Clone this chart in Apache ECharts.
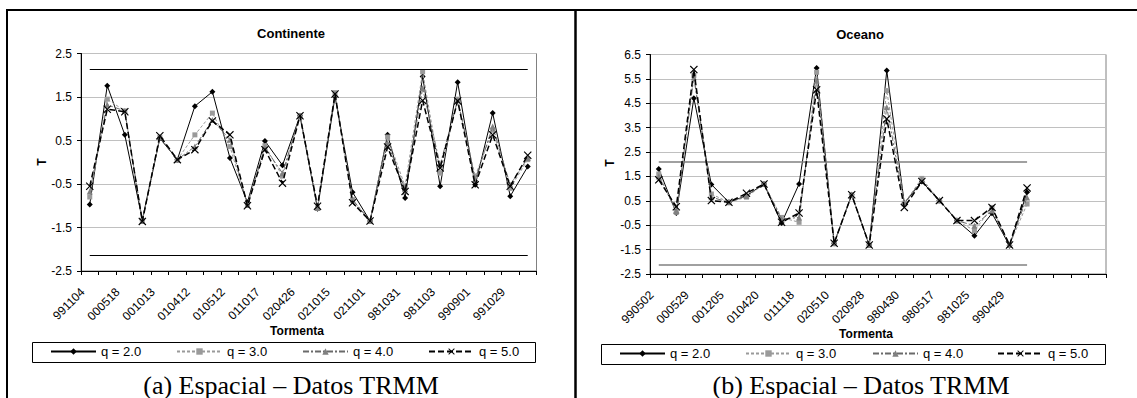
<!DOCTYPE html>
<html><head><meta charset="utf-8">
<script src="https://cdn.jsdelivr.net/npm/echarts@6/dist/echarts.min.js"></script>
<style>html,body{margin:0;padding:0;background:#fff}#c{width:1137px;height:398px}</style>
</head><body><div id="c"></div>
<script>
// ---------- data ----------
const leftStorms = ['991104','','000518','','001013','','010412','','010512','','011017','','020426','','021015','','021101','','981031','','981103','','990901','','991029',''];
const rightStorms = ['990502','','000529','','001205','','010420','','011118','','020510','','020928','','980430','','980517','','981025','','990429','','','','',''];
const seriesNames = ['q = 2.0','q = 3.0','q = 4.0','q = 5.0'];

const leftQ2 = [-0.97, 1.76, 0.63, -1.32, 0.55, 0.06, 1.29, 1.62, 0.10, -0.92, 0.49, -0.07, 1.07, -1.07, 1.51, -0.69, -1.35, 0.63, -0.82, 1.97, -0.55, 1.84, -0.52, 1.13, -0.78, -0.10];
const leftQ3 = [-0.80, 1.45, 1.18, -1.35, 0.57, 0.06, 0.63, 1.13, 0.36, -0.97, 0.38, -0.32, 1.07, -1.05, 1.60, -0.86, -1.35, 0.58, -0.55, 2.08, -0.25, 1.45, -0.32, 0.74, -0.60, 0.06];
const leftQ4 = [-0.67, 1.32, 1.18, -1.35, 0.58, 0.06, 0.36, 0.97, 0.52, -0.98, 0.33, -0.25, 1.07, -1.05, 1.57, -0.86, -1.35, 0.44, -0.62, 1.70, -0.06, 1.43, -0.40, 0.82, -0.52, 0.10];
const leftQ5 = [-0.55, 1.22, 1.16, -1.36, 0.61, 0.06, 0.29, 0.95, 0.63, -1.00, 0.29, -0.48, 1.07, -1.01, 1.57, -0.93, -1.35, 0.35, -0.67, 1.42, -0.13, 1.41, -0.52, 0.63, -0.55, 0.16];

const rightQ2 = [1.81, 0.00, 4.71, 1.17, 0.44, 0.71, 1.19, -0.41, 1.19, 5.95, -1.24, 0.75, -1.31, 5.84, 0.40, 1.29, 0.51, -0.31, -0.93, -0.01, -1.34, 0.85];
const rightQ3 = [1.60, 0.03, 5.64, 0.78, 0.44, 0.65, 1.19, -0.18, -0.38, 5.77, -1.24, 0.75, -1.31, 5.02, 0.40, 1.42, 0.51, -0.31, -0.72, 0.23, -1.31, 0.37];
const rightQ4 = [1.50, 0.08, 5.57, 0.65, 0.44, 0.70, 1.19, -0.25, -0.18, 5.43, -1.24, 0.75, -1.31, 4.34, 0.40, 1.35, 0.51, -0.31, -0.52, 0.10, -1.31, 0.64];
const rightQ5 = [1.36, 0.26, 5.88, 0.51, 0.44, 0.81, 1.19, -0.38, 0.00, 5.05, -1.24, 0.75, -1.31, 3.86, 0.23, 1.29, 0.51, -0.31, -0.31, 0.23, -1.31, 1.03];

const leftCritical = 2.13;
const rightCritical = 2.11;
const leftYRange = [-2.5, 2.5];
const rightYRange = [-2.5, 6.5];

// ---------- styles ----------
const X_PATH = 'path://M1,0L5,4L9,0L10,1L6,5L10,9L9,10L5,6L1,10L0,9L4,5L0,1Z';
const styles = [
  {color:'#000000', type:'solid', width:1, symbol:'diamond', size:6, symColor:'#000000'},
  {color:'#9a9a9a', type:[3,2], width:1, symbol:'rect', size:5, symColor:'#9a9a9a'},
  {color:'#6a6a6a', type:[6,2,2,2], width:1, symbol:'triangle', size:6, symColor:'#808080'},
  {color:'#000000', type:[6,3], width:1.5, symbol:X_PATH, size:8, symColor:'#000000'}
];
const FONT = 'Liberation Sans, Arial, sans-serif';

function mkSeries(idx, data, axis) {
  const s = styles[idx];
  return {
    type:'line', name: seriesNames[idx], data: data,
    xAxisIndex: axis, yAxisIndex: axis,
    symbol: s.symbol, symbolSize: s.size, showSymbol: true,
    lineStyle:{color:s.color, type:s.type, width:s.width},
    itemStyle:{color:s.symColor},
    emphasis:{disabled:true}, animation:false, z: 3 + idx
  };
}
function critSeries(axis, val, lastIdx, color, width) {
  return {
    type:'line', name:'crit'+axis, data:[], xAxisIndex:axis, yAxisIndex:axis, animation:false,
    markLine:{silent:true, symbol:['none','none'], label:{show:false},
      lineStyle:{color:color, type:'solid', width:width},
      data:[[{coord:[0, val]},{coord:[lastIdx, val]}],[{coord:[0, -val]},{coord:[lastIdx, -val]}]]}
  };
}
function yAxis(idx, range) {
  return {
    type:'value', gridIndex:idx, min:range[0], max:range[1], interval:1,
    axisLine:{show:true, lineStyle:{color:'#000', width:1}},
    axisTick:{show:true, length:4, lineStyle:{color:'#000'}},
    axisLabel:{margin:9, fontSize:12, fontFamily:FONT, color:'#000', formatter:v=>v.toFixed(1)},
    splitLine:{show:true, lineStyle:{color:'#c0c0c0', width:1}}
  };
}
function xAxis(idx, cats) {
  return {
    type:'category', gridIndex:idx, data:cats, boundaryGap:true,
    axisLine:{show:true, onZero:false, lineStyle:{color:'#000', width:1}},
    axisTick:{show:true, interval:0, length:4, lineStyle:{color:'#000'}},
    axisLabel:{interval:0, rotate:45, margin:12, padding:[0,10,0,0], fontSize:12, fontFamily:FONT, color:'#000'},
    splitLine:{show:false}
  };
}
function legendItem(name, x, y) {
  return {data:[name], left:x, top:y, orient:'horizontal', itemWidth:45, itemHeight:8, padding:0,
    selectedMode:false, textStyle:{fontSize:13, fontFamily:FONT, color:'#000'}};
}

const leftLegendX = [50, 176, 302, 428];
const rightLegendX = [619, 745, 872, 997];

const option = {
  backgroundColor:'#fff',
  animation:false,
  grid:[
    {left:81, top:53.5, width:455.5, height:217.5, show:true, borderColor:'#808080', borderWidth:1, backgroundColor:'transparent'},
    {left:650, top:54.5, width:456, height:219.5, show:true, borderColor:'#808080', borderWidth:1, backgroundColor:'transparent'}
  ],
  xAxis:[xAxis(0, leftStorms), xAxis(1, rightStorms)],
  yAxis:[yAxis(0, leftYRange), yAxis(1, rightYRange)],
  legend: leftLegendX.map((x,i)=>legendItem(seriesNames[i], x, 345))
    .concat(rightLegendX.map((x,i)=>legendItem(seriesNames[i], x, 347))),
  series:[
    critSeries(0, leftCritical, leftQ2.length-1, '#000', 1),
    critSeries(1, rightCritical, rightQ2.length-1, '#808080', 1.5),
    mkSeries(0, leftQ2, 0), mkSeries(1, leftQ3, 0), mkSeries(2, leftQ4, 0), mkSeries(3, leftQ5, 0),
    mkSeries(0, rightQ2, 1), mkSeries(1, rightQ3, 1), mkSeries(2, rightQ4, 1), mkSeries(3, rightQ5, 1)
  ],
  graphic:[
    {type:'line', shape:{x1:6, y1:10, x2:1137, y2:10}, style:{stroke:'#000', lineWidth:2}, silent:true},
    {type:'line', shape:{x1:7, y1:9, x2:7, y2:398}, style:{stroke:'#000', lineWidth:2}, silent:true},
    {type:'line', shape:{x1:575.5, y1:9, x2:575.5, y2:398}, style:{stroke:'#000', lineWidth:2.5}, silent:true},
    {type:'rect', shape:{x:32.5, y:342.5, width:503, height:20}, style:{fill:'none', stroke:'#000', lineWidth:1}, silent:true, z:-1},
    {type:'rect', shape:{x:601.5, y:344.5, width:504, height:20}, style:{fill:'none', stroke:'#000', lineWidth:1}, silent:true, z:-1},
    {type:'text', x:291, y:33, style:{text:'Continente', font:'bold 13px '+FONT, fill:'#000', textAlign:'center', textVerticalAlign:'middle'}},
    {type:'text', x:860, y:34, style:{text:'Oceano', font:'bold 13px '+FONT, fill:'#000', textAlign:'center', textVerticalAlign:'middle'}},
    {type:'text', x:42, y:162, rotation:Math.PI/2, style:{text:'T', font:'bold 12px '+FONT, fill:'#000', textAlign:'center', textVerticalAlign:'middle'}},
    {type:'text', x:610, y:163, rotation:Math.PI/2, style:{text:'T', font:'bold 12px '+FONT, fill:'#000', textAlign:'center', textVerticalAlign:'middle'}},
    {type:'text', x:297, y:331, style:{text:'Tormenta', font:'bold 12px '+FONT, fill:'#000', textAlign:'center', textVerticalAlign:'middle'}},
    {type:'text', x:866, y:334, style:{text:'Tormenta', font:'bold 12px '+FONT, fill:'#000', textAlign:'center', textVerticalAlign:'middle'}},
    {type:'text', x:291, y:385, style:{text:'(a) Espacial – Datos TRMM', font:'26px Liberation Serif, Times New Roman, serif', fill:'#000', textAlign:'center', textVerticalAlign:'middle'}},
    {type:'text', x:861, y:385, style:{text:'(b) Espacial – Datos TRMM', font:'26px Liberation Serif, Times New Roman, serif', fill:'#000', textAlign:'center', textVerticalAlign:'middle'}}
  ]
};
const chart = echarts.init(document.getElementById('c'), null, {renderer:'svg', width:1137, height:398});
chart.setOption(option);
</script></body></html>
